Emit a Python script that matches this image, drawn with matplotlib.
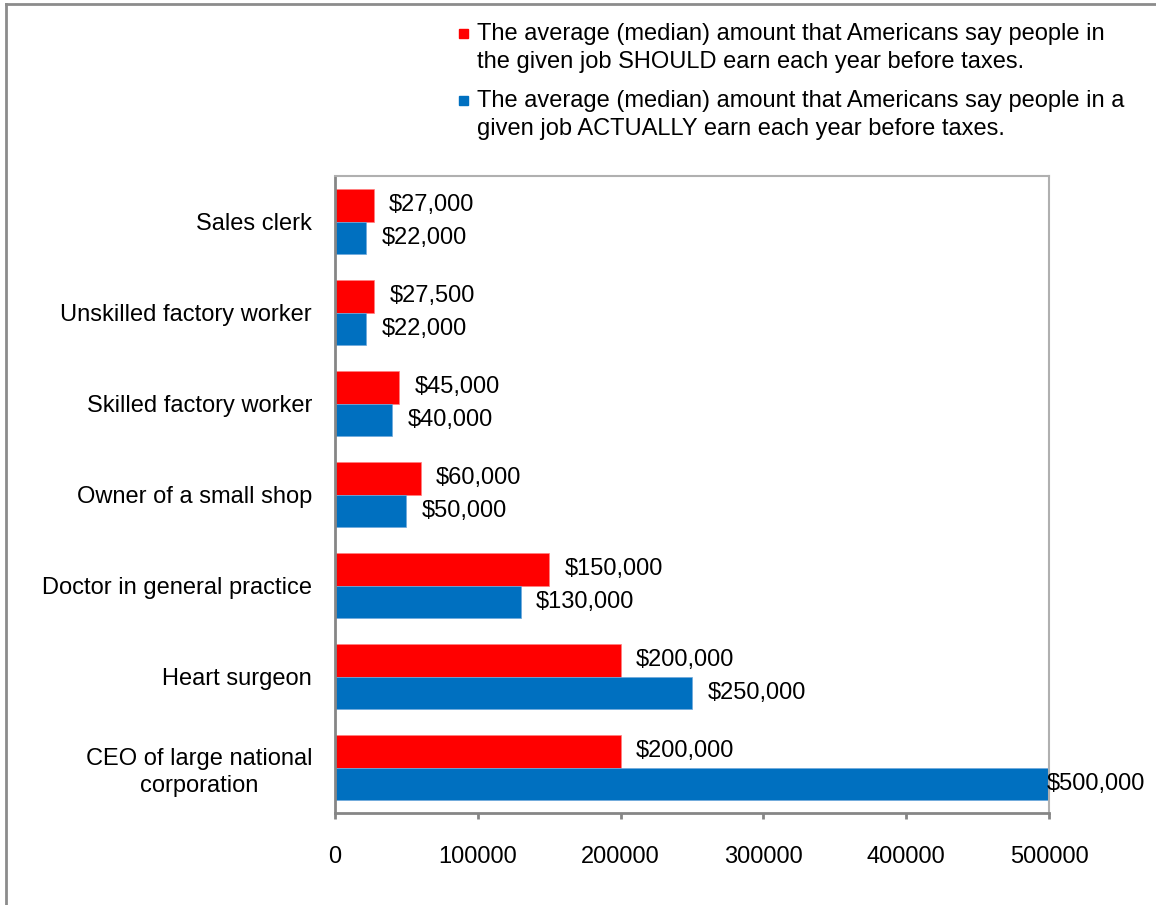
import numpy as np
import matplotlib
matplotlib.use("Agg")
import matplotlib.pyplot as plt
from matplotlib.patches import Rectangle
from matplotlib.lines import Line2D

plt.rcParams['font.family'] = ['Liberation Sans', 'DejaVu Sans']

jobs = [
    "Sales clerk",
    "Unskilled factory worker",
    "Skilled factory worker",
    "Owner of a small shop",
    "Doctor in general practice",
    "Heart surgeon",
    "CEO of large national\ncorporation",
]
should_earn = [27000, 27500, 45000, 60000, 150000, 200000, 200000]
actually_earn = [22000, 22000, 40000, 50000, 130000, 250000, 500000]
x_ticks = [0, 100000, 200000, 300000, 400000, 500000]

legend_texts = [
    "The average (median) amount that Americans say people in\n"
    "the given job SHOULD earn each year before taxes.",
    "The average (median) amount that Americans say people in a\n"
    "given job ACTUALLY earn each year before taxes.",
]

RED = "#FF0000"
BLUE = "#0070C0"
W, H = 1156, 905
FS = 17

fig = plt.figure(figsize=(W / 100, H / 100), dpi=100)
ax = fig.add_axes([335 / W, 1 - 813 / H, 714 / W, 637 / H])

y = np.arange(len(jobs))
bh = 0.357
ax.barh(y - bh / 2, should_earn, height=bh, color=RED, edgecolor="#ff8080", linewidth=0.5)
ax.barh(y + bh / 2, actually_earn, height=bh, color=BLUE, edgecolor="#6fa8dc", linewidth=0.5)

ax.set_xlim(0, 500000)
ax.set_ylim(len(jobs) - 0.5, -0.5)

# value labels to the right of each bar (the one at the axis end sits on it)
for i, (s, a) in enumerate(zip(should_earn, actually_earn)):
    for val, yy in ((s, i - bh / 2), (a, i + bh / 2)):
        pts = 11 if val < 500000 else -1.5
        ax.annotate(f"${val:,}", (val, yy), xytext=(pts, 0), textcoords="offset points",
                    va="center", ha="left", fontsize=FS, clip_on=False)

ax.set_yticks(y)
ax.set_yticklabels(jobs, fontsize=FS, multialignment="center", linespacing=1.3)
ax.tick_params(axis="y", length=0, pad=16.5)

ax.set_xticks(x_ticks)
ax.set_xticklabels([str(v) for v in x_ticks], fontsize=FS)
ax.tick_params(axis="x", length=4, width=2, color="#868686", pad=20)

for side in ("left", "bottom"):
    ax.spines[side].set_color("#868686")
    ax.spines[side].set_linewidth(2)
for side in ("top", "right"):
    ax.spines[side].set_color("#b0b0b0")
    ax.spines[side].set_linewidth(1.5)

# legend drawn as square markers with wrapped text
leg_colors = [RED, BLUE]
leg_centers = [34, 101]
for col, cy, txt in zip(leg_colors, leg_centers, legend_texts):
    fig.patches.append(Rectangle((459 / W, 1 - (cy + 4.5) / H), 9 / W, 9 / H,
                                 transform=fig.transFigure, color=col))
    fig.text(477 / W, 1 - (cy - 11) / H, txt, fontsize=FS, va="top", ha="left",
             linespacing=1.38)

# outer border on the top and left edges
fig.lines.append(Line2D([5.5 / W, 5.5 / W], [0, 1 - 4.5 / H], transform=fig.transFigure,
                        color="#8c8c8c", linewidth=2))
fig.lines.append(Line2D([5.5 / W, 1], [1 - 4.5 / H, 1 - 4.5 / H], transform=fig.transFigure,
                        color="#8c8c8c", linewidth=2))

fig.savefig("out.png", dpi=100)
